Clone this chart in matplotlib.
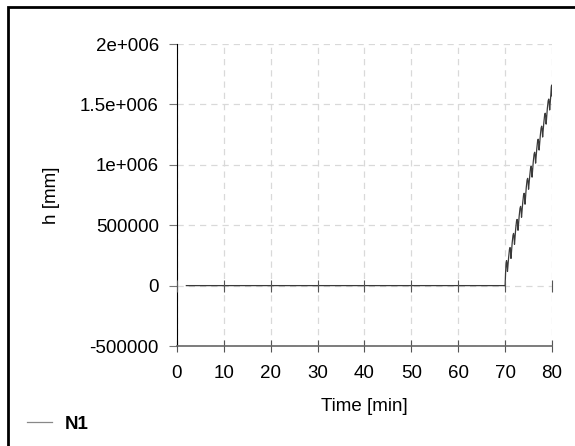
import matplotlib
matplotlib.use("Agg")
import matplotlib.pyplot as plt
from matplotlib.patches import Rectangle

plt.rcParams["font.family"] = ["Liberation Sans", "DejaVu Sans"]

# series N1: flat at zero, then saw-tooth rise after 70 min
time_min = [2.0, 70.0,
             70.1, 70.2, 70.3, 70.4, 70.5,
             70.75, 70.93, 71.05, 71.15, 71.25,
             71.5, 71.68, 71.8, 71.9, 72.0,
             72.25, 72.43, 72.55, 72.65, 72.75,
             73.0, 73.18, 73.3, 73.4, 73.5,
             73.75, 73.93, 74.05, 74.15, 74.25,
             74.5, 74.68, 74.8, 74.9, 75.0,
             75.25, 75.43, 75.55, 75.65, 75.75,
             76.0, 76.18, 76.3, 76.4, 76.5,
             76.75, 76.93, 77.05, 77.15, 77.25,
             77.5, 77.68, 77.8, 77.9, 78.0,
             78.25, 78.43, 78.55, 78.65, 78.75,
             79.0, 79.18, 79.3, 79.4, 79.5,
             79.75, 79.85, 79.93, 80.0]
h_mm = [0, 0,
        110000, 180000, 207000, 185000, 117000,
        235000, 300000, 315000, 290000, 225000,
        352000, 417000, 432000, 407000, 342000,
        468000, 533000, 548000, 523000, 458000,
        576000, 641000, 656000, 631000, 566000,
        684000, 749000, 764000, 739000, 674000,
        808000, 873000, 888000, 863000, 798000,
        908000, 973000, 988000, 963000, 898000,
        1024000, 1089000, 1104000, 1079000, 1014000,
        1132000, 1197000, 1212000, 1187000, 1122000,
        1240000, 1305000, 1320000, 1295000, 1230000,
        1347000, 1412000, 1427000, 1402000, 1337000,
        1464000, 1529000, 1544000, 1519000, 1454000,
        1580000, 1645000, 1660000, 1570000]

x_ticks = [0, 10, 20, 30, 40, 50, 60, 70, 80]
y_ticks = [-500000, 0, 500000, 1000000, 1500000, 2000000]
y_tick_labels = ["-500000", "0", "500000", "1e+006", "1.5e+006", "2e+006"]

fig = plt.figure(figsize=(5.75, 4.46), dpi=100)
ax = fig.add_axes([0.3078, 0.2242, 0.6522, 0.6771])

ax.plot(time_min, h_mm, color="#3a3a3a", lw=0.9, label="N1")

ax.set_xlim(0, 80)
ax.set_ylim(-500000, 2000000)
ax.set_xticks(x_ticks)
ax.set_yticks(y_ticks)
ax.set_yticklabels(y_tick_labels)

ax.grid(True, ls=(0, (5, 4)), color="#d9d9d9", lw=0.9)
ax.set_axisbelow(True)

for side in ["top", "right"]:
    ax.spines[side].set_visible(False)
ax.spines["left"].set_color("black")
ax.spines["bottom"].set_color("#666666")
ax.spines["bottom"].set_linewidth(1.2)

ax.tick_params(axis="y", direction="out", length=6, color="#777777",
               labelsize=13.5, pad=7)
ax.tick_params(axis="x", direction="inout", length=9, color="#555555",
               labelsize=13.5, pad=9)

# tick marks along the zero line
ax0 = ax.twiny()
ax0.set_xlim(0, 80)
ax0.set_xticks(x_ticks)
ax0.set_xticklabels([])
for side in ["top", "right", "left"]:
    ax0.spines[side].set_visible(False)
ax0.spines["bottom"].set_position(("data", 0))
ax0.spines["bottom"].set_visible(False)
ax0.xaxis.set_ticks_position("bottom")
ax0.tick_params(axis="x", direction="inout", length=9, color="#555555")

ax.set_xlabel("Time [min]", fontsize=13.5, labelpad=12)
ax.set_ylabel("h [mm]", fontsize=13.5)
ax.yaxis.set_label_coords(-0.312, 0.5)

handles, labels = ax.get_legend_handles_labels()
leg = fig.legend(handles, labels, loc="lower left", bbox_to_anchor=(0.018, -0.008),
                 frameon=False, prop={"weight": "bold", "size": 13.5},
                 handlelength=1.3, handletextpad=0.7)
leg.get_lines()[0].set_color("#888888")

fig.add_artist(Rectangle((8 / 575, -0.1), 1.2, 1 - 7 / 446 + 0.1, fill=False,
                         lw=2, edgecolor="black", transform=fig.transFigure))

fig.savefig("out.png", dpi=100)
